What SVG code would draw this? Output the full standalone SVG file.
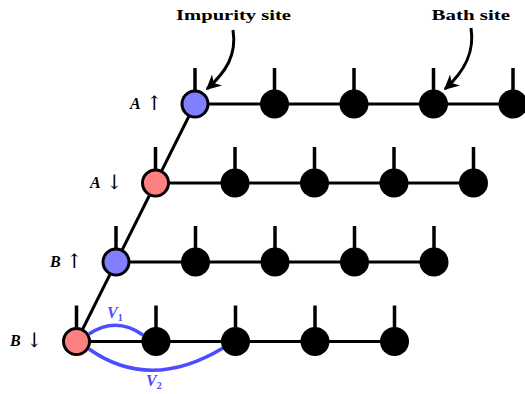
<svg xmlns="http://www.w3.org/2000/svg" width="525" height="394" viewBox="0 0 525 394">
<style>
.ln{stroke:#000;stroke-width:3;fill:none}
.leg{stroke:#000;stroke-width:3.5}
.bath{fill:#000}
.imp{stroke:#000;stroke-width:3}
.up{fill:#8080ff}
.dn{fill:#ff8080}
.v{stroke:#4d4dff;stroke-width:3.5;fill:none}
.t{font-family:"Liberation Serif",serif;font-weight:bold;font-size:15px;fill:#000}
.lab{font-family:"Liberation Serif",serif;font-style:italic;font-weight:bold;font-size:16px;fill:#000}
.ar{font-family:"DejaVu Serif",serif;font-style:normal;font-weight:normal;font-size:20px}
.vl{font-family:"Liberation Serif",serif;font-weight:bold;font-style:italic;font-size:16px;fill:#4d4dff}
.sub{font-size:10px;font-style:normal}
</style>
<defs>
<marker id="ah" viewBox="0 0 10 10" refX="9" refY="5" markerWidth="5" markerHeight="5" orient="auto" markerUnits="strokeWidth">
<path d="M0,0 L10,5 L0,10 L3,5 Z" fill="#000"/>
</marker>
</defs>
<g id="connectors">
<line class="ln" x1="195" y1="104" x2="76.5" y2="341.5"/>
<line class="ln" x1="195" y1="104" x2="525" y2="104"/>
<line class="ln" x1="155.5" y1="183" x2="473" y2="183"/>
<line class="ln" x1="116" y1="262" x2="434" y2="262"/>
<line class="ln" x1="76.5" y1="341.5" x2="394.5" y2="341.5"/>
<path class="v" d="M89,334 Q116,316 143,335"/>
<path class="v" d="M89,349 Q150,392 223,348"/>
<path d="M233,30 C237,55 226,72 207,89" stroke="#000" stroke-width="3" fill="none" marker-end="url(#ah)"/>
<path d="M471,28 C475,53 464,72 445,89" stroke="#000" stroke-width="3" fill="none" marker-end="url(#ah)"/>
</g>
<g id="legs">
<line class="leg" x1="195" y1="68" x2="195" y2="92"/>
<line class="leg" x1="274.5" y1="68" x2="274.5" y2="92"/>
<line class="leg" x1="354" y1="68" x2="354" y2="92"/>
<line class="leg" x1="433.5" y1="68" x2="433.5" y2="92"/>
<line class="leg" x1="513" y1="68" x2="513" y2="92"/>
<line class="leg" x1="155.5" y1="147" x2="155.5" y2="171"/>
<line class="leg" x1="235" y1="147" x2="235" y2="171"/>
<line class="leg" x1="314.5" y1="147" x2="314.5" y2="171"/>
<line class="leg" x1="394" y1="147" x2="394" y2="171"/>
<line class="leg" x1="473.5" y1="147" x2="473.5" y2="171"/>
<line class="leg" x1="116" y1="226" x2="116" y2="250"/>
<line class="leg" x1="195.5" y1="226" x2="195.5" y2="250"/>
<line class="leg" x1="275" y1="226" x2="275" y2="250"/>
<line class="leg" x1="354.5" y1="226" x2="354.5" y2="250"/>
<line class="leg" x1="434" y1="226" x2="434" y2="250"/>
<line class="leg" x1="76.5" y1="305.5" x2="76.5" y2="329.5"/>
<line class="leg" x1="156" y1="305.5" x2="156" y2="329.5"/>
<line class="leg" x1="235.5" y1="305.5" x2="235.5" y2="329.5"/>
<line class="leg" x1="315" y1="305.5" x2="315" y2="329.5"/>
<line class="leg" x1="394.5" y1="305.5" x2="394.5" y2="329.5"/>
</g>
<g id="imp-Aup"><circle class="imp up" cx="195" cy="104" r="13"/></g>
<g id="imp-Adn"><circle class="imp dn" cx="155.5" cy="183" r="13"/></g>
<g id="imp-Bup"><circle class="imp up" cx="116" cy="262" r="13"/></g>
<g id="imp-Bdn"><circle class="imp dn" cx="76.5" cy="341.5" r="13"/></g>
<g id="bath-A-up">
<circle class="bath" cx="274.5" cy="104" r="14.5"/>
<circle class="bath" cx="354" cy="104" r="14.5"/>
<circle class="bath" cx="433.5" cy="104" r="14.5"/>
<circle class="bath" cx="513" cy="104" r="14.5"/>
</g>
<g id="bath-A-dn">
<circle class="bath" cx="235" cy="183" r="14.5"/>
<circle class="bath" cx="314.5" cy="183" r="14.5"/>
<circle class="bath" cx="394" cy="183" r="14.5"/>
<circle class="bath" cx="473.5" cy="183" r="14.5"/>
</g>
<g id="bath-B-up">
<circle class="bath" cx="195.5" cy="262" r="14.5"/>
<circle class="bath" cx="275" cy="262" r="14.5"/>
<circle class="bath" cx="354.5" cy="262" r="14.5"/>
<circle class="bath" cx="434" cy="262" r="14.5"/>
</g>
<g id="bath-B-dn">
<circle class="bath" cx="156" cy="341.5" r="14.5"/>
<circle class="bath" cx="235.5" cy="341.5" r="14.5"/>
<circle class="bath" cx="315" cy="341.5" r="14.5"/>
<circle class="bath" cx="394.5" cy="341.5" r="14.5"/>
</g>
<g id="labels">
<text class="t" x="176" y="19.5" textLength="115" lengthAdjust="spacingAndGlyphs">Impurity site</text>
<text class="t" x="431.5" y="19.5" textLength="78.5" lengthAdjust="spacingAndGlyphs">Bath site</text>
<text class="lab" x="130" y="109">A<tspan class="ar" x="146" y="110">↑</tspan></text>
<text class="lab" x="90" y="188">A<tspan class="ar" x="106" y="189">↓</tspan></text>
<text class="lab" x="50" y="267">B<tspan class="ar" x="66" y="268">↑</tspan></text>
<text class="lab" x="10" y="346">B<tspan class="ar" x="26" y="347">↓</tspan></text>
<text class="vl" x="107" y="318">V<tspan class="sub" dy="3">1</tspan></text>
<text class="vl" x="146" y="386">V<tspan class="sub" dy="3">2</tspan></text>
</g>
</svg>
